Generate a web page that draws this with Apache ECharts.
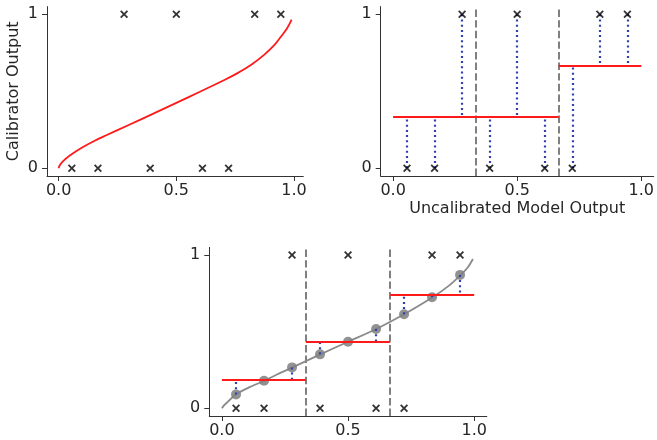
<!DOCTYPE html>
<html>
<head>
<meta charset="utf-8">
<script src="https://cdn.jsdelivr.net/npm/echarts@6/dist/echarts.min.js"></script>
<style>
html,body{margin:0;padding:0;background:#fff;}
#chart{width:657px;height:440px;}
</style>
</head>
<body>
<div id="chart"></div>
<script>
// ---- data ----
const xPoints = [0.056, 0.167, 0.278, 0.389, 0.5, 0.611, 0.722, 0.833, 0.944];
const labels = [0, 0, 1, 0, 1, 0, 0, 1, 1];

// top-left calibrator curve
const curveX = [0, 0.004, 0.015, 0.03, 0.058, 0.1, 0.157, 0.2, 0.3, 0.4, 0.5, 0.6, 0.7, 0.76, 0.82, 0.874, 0.92, 0.945, 0.97, 0.99];
const curveY = [0, 0.018, 0.04, 0.062, 0.094, 0.135, 0.182, 0.213, 0.283, 0.353, 0.425, 0.497, 0.570, 0.618, 0.674, 0.738, 0.806, 0.856, 0.908, 0.966];

// top-right histogram binning
const histEdges = [0, 0.667, 1.0];
const histLevels = [0.333, 0.667];
const dashedX = [0.333, 0.667];

// bottom: calibrated curve + binning
const grayX = [0, 0.01, 0.025, 0.055, 0.11, 0.169, 0.22, 0.28, 0.39, 0.5, 0.612, 0.722, 0.835, 0.9, 0.947, 0.975, 0.995];
const grayY = [0, 0.022, 0.045, 0.091, 0.138, 0.18, 0.222, 0.267, 0.352, 0.434, 0.517, 0.613, 0.724, 0.8, 0.87, 0.92, 0.974];
const calibrated = [0.091, 0.18, 0.267, 0.352, 0.434, 0.517, 0.613, 0.724, 0.87];
const bottomEdges = [0, 0.333, 0.667, 1.0];
const bottomLevels = [0.185, 0.437, 0.739];

const xTicks = [0, 0.5, 1];
const xTickLabels = ['0.0', '0.5', '1.0'];
const yTicks = [0, 1];
const yTickLabels = ['0', '1'];

// ---- build ----
const FONT = 'DejaVu Sans';
const AX = '#333';
const X_SYMBOL = 'path://M0,1.6L1.6,0L5,3.4L8.4,0L10,1.6L6.6,5L10,8.4L8.4,10L5,6.6L1.6,10L0,8.4L3.4,5Z';

function xAxisCfg(gi, min, max, name) {
  return {
    type: 'value', gridIndex: gi, min: min, max: max,
    name: name, nameLocation: 'middle', nameGap: 25,
    nameTextStyle: {fontFamily: FONT, fontSize: 16, color: '#262626'},
    axisLine: {show: true, onZero: false, lineStyle: {color: AX, width: 1}},
    axisTick: {show: true, length: 5, customValues: xTicks, lineStyle: {color: AX}},
    axisLabel: {show: true, customValues: xTicks, margin: 7, fontFamily: FONT, fontSize: 16, color: '#262626',
      formatter: v => xTickLabels[xTicks.indexOf(+v.toFixed(3))] ?? ''},
    splitLine: {show: false}
  };
}
function yAxisCfg(gi, name) {
  return {
    type: 'value', gridIndex: gi, min: -0.05, max: 1.05,
    name: name, nameLocation: 'middle', nameGap: 25, nameRotate: 90,
    nameTextStyle: {fontFamily: FONT, fontSize: 16, color: '#262626'},
    axisLine: {show: true, onZero: false, lineStyle: {color: AX, width: 1}},
    axisTick: {show: true, length: 5, customValues: yTicks, lineStyle: {color: AX}},
    axisLabel: {show: true, customValues: yTicks, margin: 9, fontFamily: FONT, fontSize: 16, color: '#262626',
      formatter: v => yTickLabels[yTicks.indexOf(Math.round(v))] ?? ''},
    splitLine: {show: false}
  };
}

function binIndex(x, edges) {
  for (let i = 0; i < edges.length - 1; i++) {
    if (x >= edges[i] && x < edges[i + 1]) return i;
  }
  return edges.length - 2;
}

function segs(list) { return list.map(c => ({coords: c})); }

function linesSeries(gi, coordsList, style, z) {
  return {
    type: 'lines', coordinateSystem: 'cartesian2d', xAxisIndex: gi, yAxisIndex: gi,
    polyline: false, silent: true, z: z,
    lineStyle: Object.assign({opacity: 1, curveness: 0}, style),
    data: segs(coordsList)
  };
}

function crosses(gi) {
  return {
    type: 'scatter', xAxisIndex: gi, yAxisIndex: gi, symbol: X_SYMBOL, symbolSize: 8,
    itemStyle: {color: '#000'}, z: 10, silent: true,
    data: xPoints.map((x, i) => [x, labels[i]])
  };
}

const dotted = {color: '#3040b0', width: 2.2, type: [2, 3.2], cap: 'butt'};
const dashed = {color: '#808080', width: 2, type: [7.4, 3.2]};
const redStyle = {color: '#ff1a1a', width: 2};

const series = [];
// panel 1
series.push({
  type: 'line', xAxisIndex: 0, yAxisIndex: 0, showSymbol: false, smooth: 0.3,
  lineStyle: {color: '#ff1a1a', width: 1.8}, silent: true, z: 3,
  data: curveX.map((x, i) => [x, curveY[i]])
});
series.push(crosses(0));

// panel 2
series.push(linesSeries(1, dashedX.map(x => [[x, -0.05], [x, 1.05]]), dashed, 2));
series.push(linesSeries(1, xPoints.map((x, i) => [[x, labels[i]], [x, histLevels[binIndex(x, histEdges)]]]), dotted, 3));
series.push(linesSeries(1, histLevels.map((lv, i) => [[histEdges[i], lv], [histEdges[i + 1], lv]]), redStyle, 4));
series.push(crosses(1));

// panel 3
series.push(linesSeries(2, dashedX.map(x => [[x, -0.05], [x, 1.05]]), dashed, 2));
series.push({
  type: 'line', xAxisIndex: 2, yAxisIndex: 2, showSymbol: false, smooth: 0.3,
  lineStyle: {color: '#8a8a8a', width: 1.8}, silent: true, z: 3,
  data: grayX.map((x, i) => [x, grayY[i]])
});
series.push({
  type: 'scatter', xAxisIndex: 2, yAxisIndex: 2, symbol: 'circle', symbolSize: 10,
  itemStyle: {color: '#7f7f7f', opacity: 0.85}, z: 4, silent: true,
  data: xPoints.map((x, i) => [x, calibrated[i]])
});
series.push(linesSeries(2, xPoints.map((x, i) => [[x, calibrated[i]], [x, bottomLevels[binIndex(x, bottomEdges)]]]), dotted, 5));
series.push(linesSeries(2, bottomLevels.map((lv, i) => [[bottomEdges[i], lv], [bottomEdges[i + 1], lv]]), redStyle, 6));
series.push(crosses(2));

const option = {
  animation: false,
  backgroundColor: '#fff',
  grid: [
    {left: 47, top: 6.6, width: 256.3, height: 169.4},
    {left: 380.7, top: 6.6, width: 277.5, height: 169.4},
    {left: 209.3, top: 247.3, width: 277.5, height: 168.7}
  ],
  xAxis: [
    xAxisCfg(0, -0.0495, 1.0395, ''),
    xAxisCfg(1, -0.05, 1.05, 'Uncalibrated Model Output'),
    xAxisCfg(2, -0.05, 1.05, '')
  ],
  yAxis: [
    yAxisCfg(0, 'Calibrator Output'),
    yAxisCfg(1, ''),
    yAxisCfg(2, '')
  ],
  series: series
};

const chart = echarts.init(document.getElementById('chart'), null, {renderer: 'canvas'});
chart.setOption(option);
</script>
</body>
</html>
